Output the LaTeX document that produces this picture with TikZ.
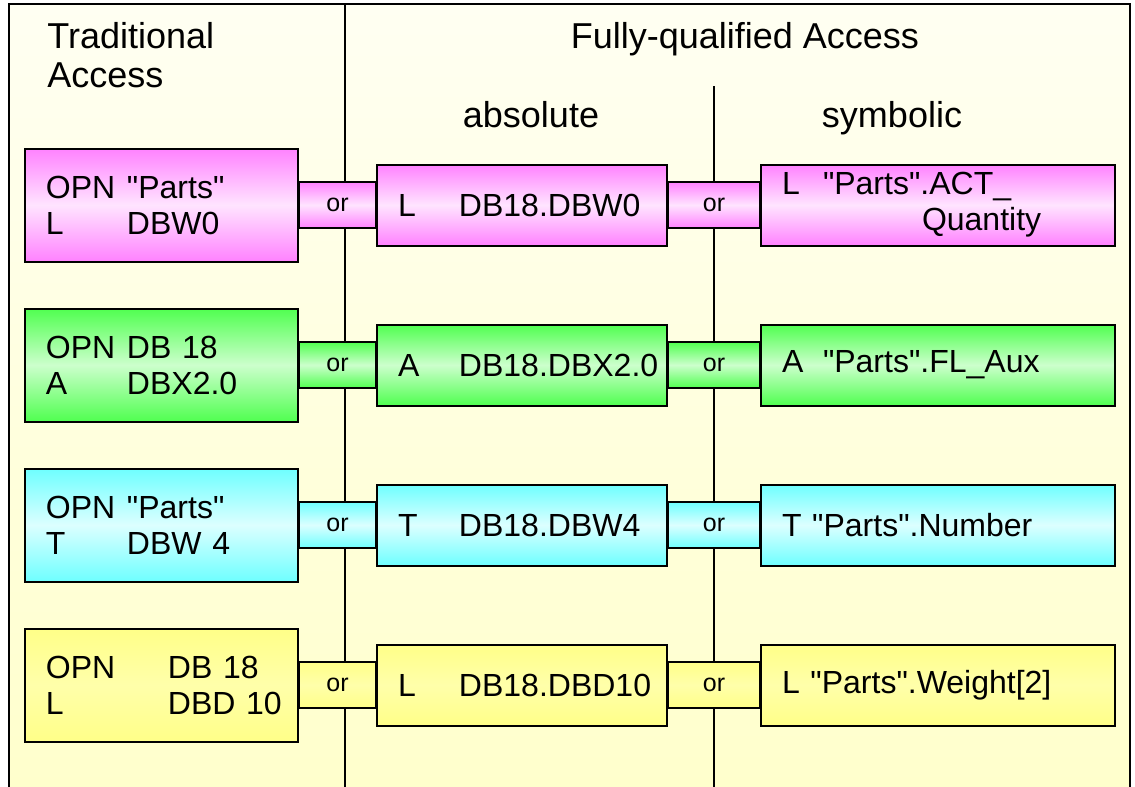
\documentclass[tikz,border=0pt]{standalone}
\usepackage{fontspec}
\setmainfont{Liberation Sans}[Ligatures=TeXOff]

\pgfdeclarelayer{bg}
\pgfdeclarelayer{band}
\pgfsetlayers{bg,band,main}

\definecolor{frametop}{RGB}{255,255,242}
\definecolor{framebot}{RGB}{255,255,204}
\definecolor{pinkdark}{RGB}{255,130,255}
\definecolor{pinklight}{RGB}{255,228,255}
\definecolor{greendark}{RGB}{80,255,80}
\definecolor{greenlight}{RGB}{204,255,204}
\definecolor{cyandark}{RGB}{110,255,255}
\definecolor{cyanlight}{RGB}{220,255,255}
\definecolor{yellowdark}{RGB}{255,255,136}
\definecolor{yellowlight}{RGB}{255,255,170}

\newcommand{\fixw}[2]{\makebox[#1][l]{#2}}

\tikzset{
  box/.style={draw, line width=1pt, inner ysep=0pt, inner xsep=10.5pt, align=left,
    font=\fontsize{16}{18}\selectfont},
  tradbox/.style={box, text width=115.5pt, minimum height=56.5pt},
  absbox/.style={box, text width=124pt, minimum height=40.5pt},
  symbox/.style={box, text width=156pt, minimum height=40.5pt},
  band/.style={draw, line width=1pt},
  ortext/.style={font=\fontsize{12.5}{14}\selectfont, inner sep=0pt},
  head/.style={font=\fontsize{18}{19.5}\selectfont, inner sep=0pt},
  pinkshade/.style={top color=pinkdark, bottom color=pinkdark, middle color=pinklight},
  greenshade/.style={top color=greendark, bottom color=greendark, middle color=greenlight},
  cyanshade/.style={top color=cyandark, bottom color=cyandark, middle color=cyanlight},
  yellowshade/.style={top color=yellowdark, bottom color=yellowdark, middle color=yellowlight},
}

\begin{document}
\begin{tikzpicture}[x=0.5pt, y=-0.5pt]
\useasboundingbox (0,0) rectangle (1135,787);

% Frame and columns
\begin{pgfonlayer}{bg}
\shade[top color=frametop, bottom color=framebot] (9,4) rectangle (1130,787);
\draw[line width=1pt] (9,787) -- (9,4) -- (1130,4) -- (1130,787);
\draw[line width=1pt] (345,4) -- (345,787);
\draw[line width=1pt] (714,86) -- (714,787);
\end{pgfonlayer}

% Headings
\node[head, anchor=base west, align=left] (trad) at (47,87) {Traditional\\Access};
\node[head, anchor=base] (full) at (745,48) {Fully-qualified Access};
\node[head, anchor=base] (abs) at (531,127) {absolute};
\node[head, anchor=base] (sym) at (892,127) {symbolic};

% Row 1
\node[tradbox, pinkshade] (trad1) at (161.5,205) {\mbox{\fixw{40.5pt}{OPN}"Parts"}\\\mbox{\fixw{40.5pt}{L}DBW0}};
\node[absbox, pinkshade] (abs1) at (522,205) {\fixw{30.5pt}{L}DB18.DBW0};
\node[symbox, pinkshade] (sym1) at (938,205) {\fixw{20.5pt}{L}"Parts".ACT\_\\\hspace*{70pt}Quantity};
\begin{pgfonlayer}{band}
\path[band, pinkshade] ([yshift=11.5pt]trad1.east) rectangle ([yshift=-11.5pt]abs1.west);
\path[band, pinkshade] ([yshift=11.5pt]abs1.east) rectangle ([yshift=-11.5pt]sym1.west);
\end{pgfonlayer}
\path (trad1.east) -- node[ortext] (or1a) {or} (abs1.west);
\path (abs1.east) -- node[ortext] (or1b) {or} (sym1.west);

% Row 2
\node[tradbox, greenshade] (trad2) at (161.5,365) {\mbox{\fixw{40.5pt}{OPN}DB 18}\\\mbox{\fixw{40.5pt}{A}DBX2.0}};
\node[absbox, greenshade] (abs2) at (522,365) {\fixw{30.5pt}{A}DB18.DBX2.0};
\node[symbox, greenshade] (sym2) at (938,365) {\fixw{20.5pt}{A}"Parts".FL\_Aux};
\begin{pgfonlayer}{band}
\path[band, greenshade] ([yshift=11.5pt]trad2.east) rectangle ([yshift=-11.5pt]abs2.west);
\path[band, greenshade] ([yshift=11.5pt]abs2.east) rectangle ([yshift=-11.5pt]sym2.west);
\end{pgfonlayer}
\path (trad2.east) -- node[ortext] (or2a) {or} (abs2.west);
\path (abs2.east) -- node[ortext] (or2b) {or} (sym2.west);

% Row 3
\node[tradbox, cyanshade] (trad3) at (161.5,525) {\mbox{\fixw{40.5pt}{OPN}"Parts"}\\\mbox{\fixw{40.5pt}{T}DBW 4}};
\node[absbox, cyanshade] (abs3) at (522,525) {\fixw{30.5pt}{T}DB18.DBW4};
\node[symbox, cyanshade] (sym3) at (938,525) {T "Parts".Number};
\begin{pgfonlayer}{band}
\path[band, cyanshade] ([yshift=11.5pt]trad3.east) rectangle ([yshift=-11.5pt]abs3.west);
\path[band, cyanshade] ([yshift=11.5pt]abs3.east) rectangle ([yshift=-11.5pt]sym3.west);
\end{pgfonlayer}
\path (trad3.east) -- node[ortext] (or3a) {or} (abs3.west);
\path (abs3.east) -- node[ortext] (or3b) {or} (sym3.west);

% Row 4
\node[tradbox, yellowshade] (trad4) at (161.5,685) {\mbox{\fixw{61pt}{OPN}DB 18}\\\mbox{\fixw{61pt}{L}DBD 10}};
\node[absbox, yellowshade] (abs4) at (522,685) {\fixw{30.5pt}{L}DB18.DBD10};
\node[symbox, yellowshade] (sym4) at (938,685) {L "Parts".Weight[2]};
\begin{pgfonlayer}{band}
\path[band, yellowshade] ([yshift=11.5pt]trad4.east) rectangle ([yshift=-11.5pt]abs4.west);
\path[band, yellowshade] ([yshift=11.5pt]abs4.east) rectangle ([yshift=-11.5pt]sym4.west);
\end{pgfonlayer}
\path (trad4.east) -- node[ortext] (or4a) {or} (abs4.west);
\path (abs4.east) -- node[ortext] (or4b) {or} (sym4.west);

\end{tikzpicture}
\end{document}
